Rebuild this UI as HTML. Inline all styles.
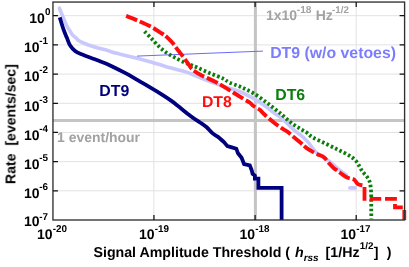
<!DOCTYPE html>
<html><head><meta charset="utf-8">
<style>
html,body{margin:0;padding:0;background:#fff;}
body{width:409px;height:267px;overflow:hidden;}
svg{display:block;}
text{font-family:"Liberation Sans",sans-serif;font-weight:bold;text-rendering:geometricPrecision;will-change:transform;}
</style></head><body>
<svg width="409" height="267" viewBox="0 0 409 267">
<rect width="409" height="267" fill="#fff"/>
<g stroke="#e2e2e2" stroke-width="1" fill="none">
<path d="M53.0 15.7H404.6M53.0 44.9H404.6M53.0 74.1H404.6M53.0 103.3H404.6M53.0 132.5H404.6M53.0 161.7H404.6M53.0 190.8H404.6"/>
<path d="M153.9 2.0V220.0M356.2 2.0V220.0"/>
</g>
<path d="M53.0 120.6H404.6" stroke="#c4c4c4" stroke-width="3" fill="none"/>
<path d="M255.4 2.0V220.0" stroke="#c4c4c4" stroke-width="3" fill="none"/>
<path d="M59.4 8.2 C60.0 9.6 61.7 13.8 62.9 16.7 C64.1 19.6 65.4 23.1 66.7 25.7 C68.0 28.2 69.6 30.4 70.6 32.0 C71.6 33.6 71.8 34.2 72.6 35.1 C73.4 36.0 74.7 36.7 75.7 37.6 C76.8 38.5 76.9 39.5 78.9 40.7 C80.9 41.9 84.6 43.5 87.8 44.7 C91.0 45.9 94.8 47.0 98.0 47.9 C101.2 48.8 104.5 49.6 107.0 50.3 C109.5 51.0 109.6 51.4 112.7 52.3 C115.8 53.2 121.2 54.5 125.5 55.5 C129.8 56.5 133.9 57.5 138.2 58.6 C142.4 59.7 145.9 60.4 151.0 61.9 C156.1 63.4 163.3 65.9 169.0 67.5 C174.7 69.1 180.2 70.1 185.0 71.6 C189.8 73.1 193.4 75.0 197.7 76.7 C201.9 78.4 206.9 80.4 210.5 81.8 C214.1 83.2 216.3 83.9 219.4 85.0 C222.5 86.1 225.8 87.0 229.3 88.2 C232.9 89.4 236.7 90.3 240.7 92.0 C244.7 93.7 249.2 96.0 253.5 98.4 C257.8 100.9 262.7 104.2 266.2 106.7 C269.7 109.2 272.2 111.6 274.7 113.4 C277.2 115.2 279.0 116.1 281.1 117.8 C283.2 119.5 285.4 121.6 287.5 123.6 C289.6 125.6 291.5 127.9 293.8 129.9 C296.1 131.9 299.0 133.7 301.3 135.6 C303.6 137.5 305.5 139.2 307.6 141.6 C309.7 144.0 312.3 147.8 314.0 149.8 C315.7 151.8 315.3 151.8 318.0 153.8 C320.7 155.8 326.3 159.2 330.0 162.0 C333.7 164.8 337.2 168.1 340.0 170.3 C342.8 172.5 345.4 174.2 346.5 175.0 " stroke="#c8c8fc" stroke-width="3.6" fill="none" stroke-linejoin="round" stroke-linecap="round"/>
<path d="M349.8 187.9H355.3" stroke="#c8c8fc" stroke-width="3.6" fill="none" stroke-linecap="round"/>
<path d="M137 56.1L263 51.1" stroke="#6a6aff" stroke-width="1" fill="none"/>
<path d="M144.6 31.4 C145.7 32.6 148.9 35.9 151.3 38.4 C153.7 40.9 156.4 44.1 158.9 46.5 C161.4 48.9 163.8 50.9 166.6 52.8 C169.4 54.7 172.5 56.3 175.5 57.9 C178.5 59.5 182.0 61.3 184.4 62.4 C186.8 63.5 187.9 63.7 190.1 64.6 C192.3 65.5 194.3 66.2 197.7 67.7 C201.1 69.2 206.2 71.7 210.5 73.5 C214.8 75.3 220.1 77.1 223.2 78.6 C226.3 80.1 226.4 81.1 229.3 82.5 C232.2 83.9 236.7 85.1 240.7 86.9 C244.7 88.7 249.2 90.8 253.5 93.3 C257.8 95.8 262.7 99.6 266.2 102.2 C269.7 104.8 272.2 106.9 274.7 108.9 C277.2 110.9 279.0 112.2 281.1 114.0 C283.2 115.8 285.4 117.9 287.5 119.7 C289.6 121.5 291.7 123.3 293.8 124.8 C295.9 126.3 298.1 127.4 300.2 128.7 C302.3 130.0 304.5 131.1 306.6 132.5 C308.7 133.9 309.6 135.6 312.7 137.4 C315.8 139.2 321.2 141.5 325.5 143.6 C329.8 145.7 334.2 147.8 338.2 149.8 C342.2 151.8 346.5 153.8 349.4 155.6 C352.3 157.4 354.1 158.9 355.8 160.7 C357.5 162.5 358.5 164.8 359.6 166.6 C360.7 168.4 361.2 169.8 362.4 171.4 C363.6 173.1 365.6 174.8 366.8 176.5 C368.0 178.2 368.9 179.7 369.6 181.6 C370.3 183.5 370.5 185.8 370.8 187.9 C371.1 190.0 371.1 193.2 371.2 194.3 L371.3 219.3" stroke="#0a7d0a" stroke-width="3.8" fill="none" stroke-dasharray="2.5 2.3" stroke-linejoin="round"/>
<path d="M126.1 15.9 C127.8 16.6 132.5 18.3 136.6 20.1 C140.7 21.9 146.4 24.3 150.6 26.5 C154.8 28.7 159.3 31.8 162.0 33.5 C164.7 35.2 164.8 35.3 166.6 36.9 C168.4 38.5 171.0 41.1 172.9 43.3 C174.8 45.5 176.3 48.1 178.0 50.3 C179.7 52.5 181.4 54.5 183.1 56.7 C184.8 58.9 186.8 61.8 188.2 63.7 C189.6 65.7 190.2 67.1 191.4 68.4 C192.6 69.7 193.5 70.4 195.2 71.6 C196.9 72.8 199.8 74.4 201.6 75.4 C203.4 76.4 203.7 76.4 206.3 77.6 C208.9 78.8 213.2 80.6 217.1 82.7 C221.0 84.8 225.5 87.7 229.8 90.4 C234.2 93.1 239.9 96.7 243.2 98.7 C246.5 100.7 247.9 101.3 249.6 102.5 C251.3 103.7 251.8 104.8 253.5 106.0 C255.2 107.2 258.2 108.6 259.8 109.8 C261.4 111.0 261.7 111.9 263.3 113.4 C264.9 115.0 267.5 117.3 269.6 119.1 C271.7 120.9 273.9 122.6 276.0 124.2 C278.1 125.8 280.5 127.4 282.4 128.7 C284.3 130.0 284.5 129.5 287.5 131.8 C290.5 134.2 297.5 140.1 300.6 142.8 C303.8 145.5 304.6 146.5 306.4 147.9 C308.2 149.3 309.6 150.0 311.5 151.1 C313.4 152.2 315.7 153.4 317.8 154.4 C319.9 155.4 322.0 155.7 323.9 157.2 C325.8 158.7 327.3 161.4 329.0 163.3 C330.7 165.2 332.7 167.2 334.1 168.4 C335.5 169.6 336.1 169.7 337.5 170.7 C338.9 171.7 340.9 173.4 342.6 174.6 C344.3 175.8 345.8 176.9 347.7 177.7 C349.6 178.5 352.4 178.5 354.1 179.6 C355.8 180.7 356.4 183.1 357.9 184.1 C359.4 185.1 362.1 185.2 363.0 185.4 " stroke="#ff0d0d" stroke-width="3.9" fill="none" stroke-dasharray="12 2.9" stroke-linejoin="round"/>
<path d="M364.5 187V198.9H366.4M369.7 198.9H381.2M385 198.9H395V200.8M395 204.1V207.3H402.8M404.3 210.1V220" stroke="#ff0d0d" stroke-width="3.8" fill="none" stroke-linejoin="miter"/>
<path d="M59.7 17.4 C60.4 19.4 62.4 26.3 63.6 29.7 C64.8 33.1 65.7 35.0 66.8 37.6 C67.9 40.2 68.6 43.1 70.0 45.3 C71.4 47.5 73.2 49.5 75.1 51.0 C77.0 52.5 78.3 52.9 81.5 54.2 C84.7 55.5 91.0 57.8 94.2 59.0 C97.4 60.2 98.4 60.7 100.5 61.5 C102.6 62.3 105.0 63.1 107.0 64.0 C109.0 64.9 109.6 65.2 112.7 66.7 C115.8 68.2 121.3 70.9 125.5 73.1 C129.7 75.3 133.5 77.7 137.7 80.1 C141.9 82.5 146.2 85.2 150.5 87.7 C154.8 90.2 159.6 93.1 163.2 95.4 C166.8 97.7 169.7 99.7 172.1 101.4 C174.5 103.1 174.6 103.4 177.7 105.8 C180.8 108.2 186.8 113.2 190.5 116.0 C194.2 118.8 197.3 120.7 200.0 122.5 C202.7 124.3 204.3 125.2 206.4 127.0 C208.5 128.8 210.6 131.6 212.7 133.4 C214.8 135.2 217.2 136.3 219.1 137.8 C221.0 139.3 223.3 141.6 224.2 142.3 L227.4 146.1 L231.8 147.4 L236.3 148.7 L238.0 153.3 L241.6 157.7 L244.1 164.1 L249.8 165.4 L251.8 170.5 L252.6 173.8 L254.9 175.6 L254.9 178.6 L258.4 178.6 L258.4 187.8 L281.6 187.8 L281.6 219.9" stroke="#00007f" stroke-width="3.8" fill="none" stroke-linejoin="miter"/>
<rect x="52.95" y="2.05" width="351.65" height="217.95" stroke="#303030" stroke-width="1.35" fill="none"/>
<g stroke="#111" stroke-width="1.25" fill="none">
<path d="M52.95 15.70h5M404.60 15.70h-5M52.95 44.89h5M404.60 44.89h-5M52.95 74.08h5M404.60 74.08h-5M52.95 103.27h5M404.60 103.27h-5M52.95 132.46h5M404.60 132.46h-5M52.95 161.65h5M404.60 161.65h-5M52.95 190.84h5M404.60 190.84h-5"/>
<path d="M153.95 220.00v-5M153.95 2.05v5M255.10 220.00v-5M255.10 2.05v5M356.20 220.00v-5M356.20 2.05v5"/>
</g>
<text fill="#000"><tspan x="29.22" y="22.90" font-size="14">10</tspan><tspan x="45.01" y="15.00" font-size="9.9">0</tspan></text>
<text fill="#000"><tspan x="24.02" y="52.10" font-size="14">10</tspan><tspan x="39.21" y="44.20" font-size="9.9">-1</tspan></text>
<text fill="#000"><tspan x="24.02" y="81.30" font-size="14">10</tspan><tspan x="39.21" y="73.40" font-size="9.9">-2</tspan></text>
<text fill="#000"><tspan x="24.02" y="110.50" font-size="14">10</tspan><tspan x="39.21" y="102.60" font-size="9.9">-3</tspan></text>
<text fill="#000"><tspan x="24.02" y="139.70" font-size="14">10</tspan><tspan x="39.21" y="131.80" font-size="9.9">-4</tspan></text>
<text fill="#000"><tspan x="24.02" y="168.90" font-size="14">10</tspan><tspan x="39.21" y="161.00" font-size="9.9">-5</tspan></text>
<text fill="#000"><tspan x="24.02" y="198.10" font-size="14">10</tspan><tspan x="39.21" y="190.20" font-size="9.9">-6</tspan></text>
<text fill="#000"><tspan x="24.02" y="226.10" font-size="14">10</tspan><tspan x="39.21" y="219.50" font-size="9.9">-7</tspan></text>
<text fill="#000"><tspan x="36.92" y="239.30" font-size="14">10</tspan><tspan x="52.71" y="232.10" font-size="9.9">-20</tspan></text>
<text fill="#000"><tspan x="138.92" y="239.30" font-size="14">10</tspan><tspan x="154.71" y="232.10" font-size="9.9">-19</tspan></text>
<text fill="#000"><tspan x="239.52" y="239.30" font-size="14">10</tspan><tspan x="255.31" y="232.10" font-size="9.9">-18</tspan></text>
<text fill="#000"><tspan x="340.42" y="239.30" font-size="14">10</tspan><tspan x="356.21" y="232.10" font-size="9.9">-17</tspan></text>
<text fill="#000"><tspan x="93.49" y="257.40" font-size="14.2">Signal Amplitude Threshold ( </tspan><tspan x="294.96" y="257.40" font-size="14.2" font-style="italic">h</tspan><tspan x="303.63" y="261.30" font-size="10" font-style="italic">rss </tspan><tspan x="325.60" y="257.40" font-size="14.2">[1/Hz</tspan><tspan x="359.78" y="249.00" font-size="9.8">1/2</tspan><tspan x="373.83" y="257.40" font-size="14.2">] </tspan><tspan x="386.69" y="257.40" font-size="14.2">)</tspan></text>
<text font-size="14.1" fill="#000" transform="translate(15.4 184.1) rotate(-90)" xml:space="preserve" style="white-space:pre">Rate  [events/sec]</text>
<text fill="#a2a2a2"><tspan x="265.92" y="20.30" font-size="14">1x10</tspan><tspan x="296.80" y="12.90" font-size="10.2">-18 </tspan><tspan x="315.66" y="20.30" font-size="14">Hz</tspan><tspan x="332.12" y="12.90" font-size="9.8">-1/2</tspan></text>
<text fill="#a2a2a2"><tspan x="57.12" y="142.40" font-size="13.95">1 event/hour</tspan></text>
<text fill="#7c7cff"><tspan x="270.14" y="57.60" font-size="15.85">DT9 (w/o vetoes)</tspan></text>
<text fill="#00007f"><tspan x="99.24" y="96.20" font-size="15.9">DT9</tspan></text>
<text fill="#ff0d0d"><tspan x="201.94" y="107.30" font-size="15.8">DT8</tspan></text>
<text fill="#0a7d0a"><tspan x="275.24" y="99.70" font-size="15.85">DT6</tspan></text>
</svg>
</body></html>
